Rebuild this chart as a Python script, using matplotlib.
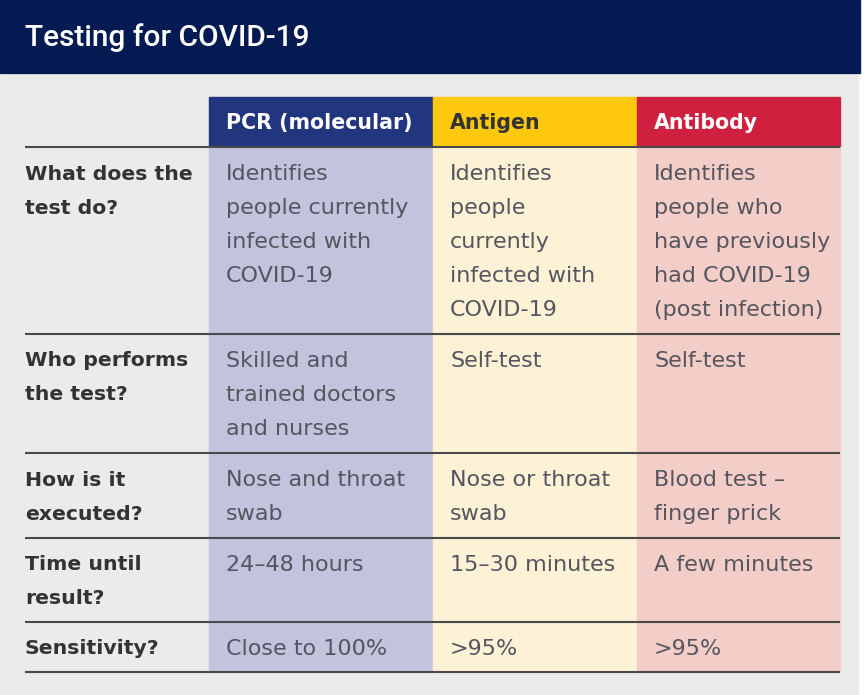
import matplotlib.pyplot as plt
from matplotlib.patches import Rectangle

# table content
title = 'Testing for COVID-19'
tests = ['PCR (molecular)', 'Antigen', 'Antibody']
questions = [
    ['What does the', 'test do?'],
    ['Who performs', 'the test?'],
    ['How is it', 'executed?'],
    ['Time until', 'result?'],
    ['Sensitivity?'],
]
pcr = [
    ['Identifies', 'people currently', 'infected with', 'COVID-19'],
    ['Skilled and', 'trained doctors', 'and nurses'],
    ['Nose and throat', 'swab'],
    ['24\u201348 hours'],
    ['Close to 100%'],
]
antigen = [
    ['Identifies', 'people', 'currently', 'infected with', 'COVID-19'],
    ['Self-test'],
    ['Nose or throat', 'swab'],
    ['15\u201330 minutes'],
    ['>95%'],
]
antibody = [
    ['Identifies', 'people who', 'have previously', 'had COVID-19', '(post infection)'],
    ['Self-test'],
    ['Blood test \u2013', 'finger prick'],
    ['A few minutes'],
    ['>95%'],
]

# layout (pixels)
W, H = 864, 695
col_edges = [25, 209, 433, 637, 840]
row_edges = [97, 147, 334, 453, 538, 622, 672]
head_colors = ['#22357f', '#fec80c', '#cf213f']
head_text = ['white', '#333333', 'white']
body_colors = ['#c2c3dc', '#fdf2d6', '#f3cec8']
line_h = 34

plt.rcParams['font.family'] = ['DejaVu Sans']

fig = plt.figure(figsize=(W / 100, H / 100), dpi=100)
ax = fig.add_axes([0, 0, 1, 1])
ax.set_xlim(0, W)
ax.set_ylim(H, 0)
ax.axis('off')

ax.add_patch(Rectangle((0, 0), W, H, color='white'))
ax.add_patch(Rectangle((0, 75), 858, H - 75, color='#ebebea'))
ax.add_patch(Rectangle((0, 0), 860, 73, color='#031a52'))
ax.text(25, 38, title, color='white', fontsize=21.5, va='center', ha='left',
        family=['Roboto', 'DejaVu Sans'], fontweight='medium')

# column fills
for i in range(3):
    x0, x1 = col_edges[i + 1], col_edges[i + 2]
    ax.add_patch(Rectangle((x0, row_edges[0]), x1 - x0, row_edges[1] - row_edges[0],
                           color=head_colors[i]))
    ax.add_patch(Rectangle((x0, row_edges[1]), x1 - x0, row_edges[-1] - row_edges[1],
                           color=body_colors[i]))
    ax.text(x0 + 17, (row_edges[0] + row_edges[1]) / 2 + 1, tests[i], color=head_text[i],
            fontsize=14.8, fontweight='bold', va='center', ha='left')

# horizontal rules
for y in row_edges[1:]:
    ax.plot([col_edges[0], col_edges[-1]], [y, y], color='#4a4a4a', lw=1.5,
            solid_capstyle='butt')

# cell text
columns = [pcr, antigen, antibody]
for r in range(len(questions)):
    y0 = row_edges[r + 1] + 27
    for k, s in enumerate(questions[r]):
        ax.text(col_edges[0], y0 + k * line_h, s, color='#333333', fontsize=14.7,
                fontweight='bold', va='center', ha='left')
    for c, col in enumerate(columns):
        for k, s in enumerate(col[r]):
            ax.text(col_edges[c + 1] + 17, y0 + k * line_h, s, color='#555560',
                    fontsize=16, va='center', ha='left')

fig.savefig('out.png', dpi=100)
